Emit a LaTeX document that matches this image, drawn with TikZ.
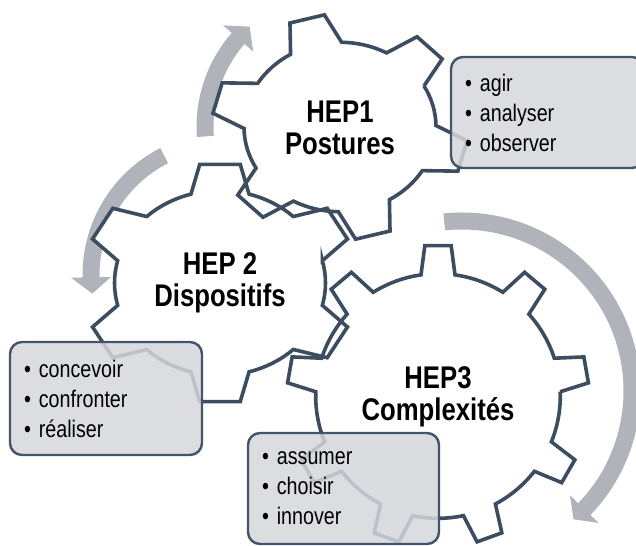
\documentclass[tikz,border=0pt]{standalone}
\usepackage{fontspec}
\setmainfont{Liberation Sans}[FakeStretch=0.82]
\usepackage{tikz}
\newlength{\unite}
\setlength{\unite}{0.75pt}
\definecolor{rouage}{RGB}{60,77,96}
\definecolor{cadre}{RGB}{68,84,106}
\definecolor{fond}{RGB}{213,215,219}
\definecolor{fleche}{RGB}{176,180,186}
\tikzstyle{roue}=[draw=rouage,line width=3.6\unite,line join=miter]
\tikzstyle{titre}=[align=center,inner sep=0pt,font=\fontsize{23.5}{24.2}\selectfont\bfseries]
\tikzstyle{liste}=[draw=cadre,line width=2.4\unite,fill=fond,fill opacity=0.85,text opacity=1,
  rounded corners=12\unite,align=left,inner xsep=14\unite,font=\fontsize{18}{22.5}\selectfont]
\newcommand{\dents}{(\dep-\base:\pied) \foreach \k in {1,...,\nb} {
    -- ({\dep+(\k-1)*360/\nb-\tete}:1) -- ({\dep+(\k-1)*360/\nb+\tete}:1)
    -- ({\dep+(\k-1)*360/\nb+\base}:\pied)
    arc[start angle={\dep+(\k-1)*360/\nb+\base},end angle={\dep+\k*360/\nb-\base},radius=\pied]} -- cycle}

\begin{document}
\begin{tikzpicture}[x=\unite,y=\unite]
  \useasboundingbox (0,0) rectangle (636,-546);
  \clip (0,0) rectangle (636,-546);
  \foreach \cx/\cy/\R/\de/\vers/\bout in {340/127/135/184/139/132,
                                          225/275/134/117/181/188, 462/391/170/96/-44/-49}
    \fill[fleche,shift={(\cx,-\cy)}] (\de:\R+8.5) arc[start angle=\de,end angle=\vers,radius=\R+8.5]
      -- (\vers:\R+20) -- (\bout:\R) -- (\vers:\R-20) -- (\vers:\R-8.5)
      arc[start angle=\vers,end angle=\de,radius=\R-8.5] -- cycle;
  \foreach \cx/\cy/\rx/\ry/\nb/\dep/\pied/\tete/\base in {340/127/128/113/6/45/0.75/8/16,
                                                          220/283/137/120/6/30/0.77/8.5/16,
                                                          438/396/151/151/9/10/0.81/5/8}
    \fill[white,shift={(\cx,-\cy)},xscale=\rx,yscale=\ry] \dents;
  \foreach \cx/\cy/\rx/\ry/\nb/\dep/\pied/\tete/\base in {340/127/128/113/6/45/0.75/8/16,
                                                          220/283/137/120/6/30/0.77/8.5/16,
                                                          438/396/151/151/9/10/0.81/5/8}
    \draw[roue,shift={(\cx,-\cy)},xscale=\rx,yscale=\ry] \dents;
  \node[titre] (hep1) at (340,-128) {HEP1\\Postures};
  \node[titre] (hep2) at (220,-283) {HEP 2\\Dispositifs};
  \node[titre] (hep3) at (438,-397) {HEP3\\Complexités};
  \node[liste,minimum height=111\unite,text width=165\unite] (actes1) at (547.5,-112.5)
    {\textbullet\ agir\\\textbullet\ analyser\\\textbullet\ observer};
  \node[liste,minimum height=113\unite,text width=164\unite] (actes2) at (106,-398.5)
    {\textbullet\ concevoir\\\textbullet\ confronter\\\textbullet\ réaliser};
  \node[liste,minimum height=111\unite,text width=163\unite] (actes3) at (343.5,-488.5)
    {\textbullet\ assumer\\\textbullet\ choisir\\\textbullet\ innover};
\end{tikzpicture}
\end{document}
